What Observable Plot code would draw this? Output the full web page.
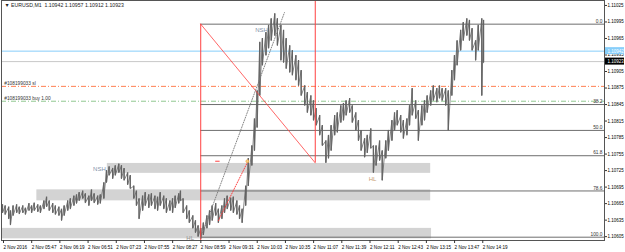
<!DOCTYPE html>
<html><head><meta charset="utf-8">
<script src="https://cdn.jsdelivr.net/npm/d3@7"></script>
<script src="https://cdn.jsdelivr.net/npm/@observablehq/plot@0.6"></script>
<style>body{margin:0;background:#fff}svg{display:block}</style>
</head><body><div id="chart"></div>
<script>
const title = "\u25BC EURUSD,M1  1.10942 1.10957 1.10912 1.10923";
// minutes after 2 Nov 2016 05:15
const sampleMin = [0,3,7,9,12,16,19,23,26,30,33,36,40,43,47,50,53,57,60,64,67,70,74,77,81,84,87,91,94,98,101,104,108,111,115,118,121,125,128,132,135,138,142,145,149,152,155,159,162,166,169,173,176,179,183,186,190,193,196,200,202,205,209,212,216,219,222,225,228,232,235,238,242,245,249,252,255,259,262,266,269,272,276,279,283,286,289,292,295,299,302,305,309,312,316,319,322,326,329,333,336,339,343,346,350,353,356,360,363,367,370,373,377,380,384,387,390,394,397,401,404,407,411,414,418,421,424,428,431,435,438,442,445,448,452,455,459,462,465,469,472,476,479,482,486,489,493,496,499,503,506,510,513,516,520,523,527,530,533,537,540,544,546];
const highs = [1.10663,1.10661,1.10659,1.10652,1.10661,1.10663,1.10659,1.10661,1.10657,1.10665,1.10661,1.10666,1.10663,1.10661,1.10670,1.10677,1.10670,1.10665,1.10661,1.10659,1.10655,1.10661,1.10670,1.10674,1.10679,1.10681,1.10685,1.10688,1.10683,1.10679,1.10690,1.10683,1.10679,1.10681,1.10703,1.10725,1.10732,1.10729,1.10734,1.10737,1.10734,1.10729,1.10721,1.10716,1.10697,1.10688,1.10674,1.10679,1.10685,1.10681,1.10683,1.10679,1.10677,1.10685,1.10679,1.10674,1.10670,1.10674,1.10679,1.10683,1.10688,1.10674,1.10661,1.10652,1.10643,1.10634,1.10625,1.10620,1.10630,1.10643,1.10652,1.10661,1.10665,1.10655,1.10661,1.10674,1.10679,1.10675,1.10677,1.10670,1.10661,1.10655,1.10697,1.10747,1.10770,1.10819,1.10870,1.10958,1.10965,1.10976,1.10989,1.11001,1.11010,1.11001,1.10989,1.10980,1.10965,1.10952,1.10943,1.10934,1.10925,1.10907,1.10879,1.10867,1.10861,1.10852,1.10838,1.10825,1.10807,1.10779,1.10789,1.10807,1.10825,1.10830,1.10843,1.10847,1.10852,1.10856,1.10843,1.10830,1.10816,1.10798,1.10783,1.10789,1.10801,1.10770,1.10770,1.10779,1.10761,1.10779,1.10798,1.10816,1.10830,1.10834,1.10825,1.10816,1.10819,1.10843,1.10874,1.10852,1.10834,1.10843,1.10852,1.10861,1.10870,1.10879,1.10874,1.10879,1.10874,1.10874,1.10870,1.10907,1.10934,1.10961,1.10980,1.10994,1.11001,1.10998,1.10983,1.10961,1.10989,1.11001,1.10998];
const lows = [1.10648,1.10645,1.10637,1.10626,1.10643,1.10648,1.10646,1.10648,1.10645,1.10652,1.10648,1.10652,1.10650,1.10648,1.10655,1.10659,1.10652,1.10648,1.10645,1.10643,1.10634,1.10643,1.10652,1.10655,1.10661,1.10665,1.10670,1.10674,1.10666,1.10661,1.10670,1.10666,1.10663,1.10665,1.10674,1.10703,1.10716,1.10710,1.10716,1.10721,1.10710,1.10707,1.10699,1.10692,1.10674,1.10661,1.10637,1.10652,1.10661,1.10657,1.10661,1.10655,1.10652,1.10661,1.10655,1.10648,1.10652,1.10648,1.10657,1.10665,1.10670,1.10648,1.10637,1.10630,1.10620,1.10612,1.10605,1.10601,1.10608,1.10620,1.10626,1.10634,1.10643,1.10630,1.10637,1.10648,1.10655,1.10652,1.10648,1.10645,1.10637,1.10630,1.10661,1.10697,1.10734,1.10761,1.10803,1.10861,1.10916,1.10934,1.10947,1.10961,1.10970,1.10952,1.10925,1.10921,1.10910,1.10903,1.10898,1.10889,1.10879,1.10861,1.10843,1.10830,1.10825,1.10816,1.10807,1.10789,1.10770,1.10739,1.10747,1.10761,1.10789,1.10794,1.10812,1.10816,1.10825,1.10830,1.10812,1.10798,1.10779,1.10761,1.10749,1.10757,1.10765,1.10721,1.10734,1.10743,1.10707,1.10747,1.10761,1.10779,1.10798,1.10807,1.10794,1.10783,1.10789,1.10807,1.10825,1.10819,1.10779,1.10807,1.10816,1.10830,1.10843,1.10852,1.10849,1.10856,1.10852,1.10843,1.10798,1.10861,1.10889,1.10916,1.10943,1.10961,1.10970,1.10961,1.10943,1.10925,1.10943,1.10861,1.10921];

const timeTicks = [0,32,64,96,128,160,192,224,256,288,320,352,384,416,448,480,512,544];
const timeLabels = ["2 Nov 2016","2 Nov 05:47","2 Nov 06:19","2 Nov 06:51","2 Nov 07:23","2 Nov 07:55","2 Nov 08:27","2 Nov 08:59","2 Nov 09:31","2 Nov 10:03","2 Nov 10:35","2 Nov 11:07","2 Nov 11:39","2 Nov 12:11","2 Nov 12:43","2 Nov 13:15","2 Nov 13:47","2 Nov 14:19"];
const priceTicks = [1.10605,1.10635,1.10665,1.10695,1.10725,1.10755,1.10785,1.10815,1.10845,1.10875,1.10905,1.10935,1.10965,1.10995,1.11025];

const fibLabels = ["0.0","38.2","50.0","61.8","78.6","100.0"];
const fibPrices = [1.10991,1.10845,1.10798,1.10752,1.10688,1.10604];
const fibStartMin = 225;

const zoneStart = [119,39,0];
const zoneEnd = [486,486,487];
const zoneLow = [1.10720,1.10670,1.10601];
const zoneHigh = [1.10738,1.10690,1.10620];

const askPrice = 1.10942, bidPrice = 1.10923;
const orderPrices = [1.10878, 1.10851];
const orderLabels = ["#108199033 sl", "#108199033 buy 1.00"];

const swingLabels = ["NSH","NSH","HL","HL"];
const swingMin = [110,294,213,420];
const swingPrice = [1.10727,1.10981,1.10603,1.10710];
const swingColors = ["#8090a8","#8090a8","#909090","#c8a070"];

// trend-line anchors (minutes, price)
const redVert1 = {m:225, p1:1.10991, p2:1.10598};
const redVert2 = {m:355, p1:1.11034, p2:1.10739};
const redDiag = [[225,1.10991],[355,1.10739]];
const grayDotted = [[225,1.10603],[320,1.11012]];
const redDotted = [[245,1.10634],[278,1.10740]];

const xDomain = [-1.135, 683.3];
const yDomain = [1.10598, 1.11034];

const bars = sampleMin.map((m,i)=>({m, hi:highs[i], lo:lows[i]}));
const zig = bars.flatMap(b=>[{m:b.m,p:b.hi},{m:b.m,p:b.lo}]);
const zones = zoneStart.map((s,i)=>({s, e:zoneEnd[i], lo:zoneLow[i], hi:zoneHigh[i]}));
const fibs = fibPrices.map((p,i)=>({p, label:fibLabels[i]}));
const swings = swingLabels.map((t,i)=>({t, m:swingMin[i], p:swingPrice[i], c:swingColors[i]}));
const orders = orderPrices.map((p,i)=>({p, label:orderLabels[i]}));
const pts = a => a.map(([m,p])=>({m,p}));

const chart = Plot.plot({
  width: 625, height: 252,
  marginLeft: 1, marginRight: 21, marginTop: 0, marginBottom: 12,
  x: {type:"linear", domain: xDomain, axis: null},
  y: {domain: yDomain, axis: null},
  style: {fontFamily: "'Liberation Sans', Arial, sans-serif", fontSize: "4.5px", color: "#000", background: "#fff", overflow: "visible"},
  marks: [
    Plot.rect(zones, {x1:"s", x2:"e", y1:"lo", y2:"hi", fill:"#d3d3d3"}),
    Plot.ruleY([askPrice], {stroke:"#87cefa", strokeWidth:1}),
    Plot.ruleY([bidPrice], {stroke:"#c8c8c8", strokeWidth:1}),
    Plot.ruleY([orderPrices[0]], {stroke:"#ff7f50", strokeWidth:1, strokeDasharray:"5,2,1,2"}),
    Plot.ruleY([orderPrices[1]], {stroke:"#90c890", strokeWidth:1, strokeDasharray:"5,2,1,2"}),
    Plot.text(orders, {x: () => 2, y:"p", text:"label", textAnchor:"start", dy:-3, fill:"#333", fontSize:4.8}),
    Plot.ruleY(fibs, {y:"p", x1: fibStartMin, x2: xDomain[1], stroke:"#6e6e6e", strokeWidth:1}),
    Plot.text(fibs, {y:"p", x: () => xDomain[1], text:"label", textAnchor:"end", dx:-2, dy:-3, fill:"#333", fontSize:4.8}),
    Plot.ruleX(bars, {x:"m", y1:"lo", y2:"hi", stroke:"#636363", strokeWidth:1.3}),
    Plot.line(zig, {x:"m", y:"p", stroke:"#636363", strokeWidth:0.8}),
    Plot.ruleX([redVert1], {x:"m", y1:"p1", y2:"p2", stroke:"#ff4040", strokeWidth:1}),
    Plot.ruleX([redVert2], {x:"m", y1:"p1", y2:"p2", stroke:"#ff4040", strokeWidth:1}),
    Plot.line(pts(redDiag), {x:"m", y:"p", stroke:"#ff4040", strokeWidth:0.8}),
    Plot.line(pts(grayDotted), {x:"m", y:"p", stroke:"#777", strokeWidth:0.9, strokeDasharray:"1,1.5"}),
    Plot.line(pts(redDotted), {x:"m", y:"p", stroke:"#ff3030", strokeWidth:0.9, strokeDasharray:"1,1.5"}),
    Plot.ruleY([1.10742], {x1:242, x2:247, stroke:"#ff4040", strokeWidth:1}),
    Plot.dot([{m:278, p:1.10742}], {x:"m", y:"p", r:1.5, stroke:"#e8a040", fill:"#f8d080", strokeWidth:0.6}),
    Plot.text(swings, {x:"m", y:"p", text:"t", fill:"c", fontSize:6}),
    // frame and axes
    Plot.frame({stroke:"#555", strokeWidth:1}),
    Plot.axisY({anchor:"right", ticks: priceTicks, tickSize:2, tickPadding:1, tickFormat: d => d.toFixed(5), fontSize:4.5, stroke:"#333"}),
    Plot.axisX({anchor:"bottom", ticks: timeTicks, tickSize:3, tickPadding:2, textAnchor:"start", dx:1, tickFormat: d => timeLabels[timeTicks.indexOf(d)], fontSize:4.6, stroke:"#333"}),
    Plot.rect([askPrice], {x1: () => xDomain[1], x2: () => xDomain[1], y1: d=>d, y2: d=>d, insetLeft:1, insetRight:-20, insetTop:-3.5, insetBottom:-3.5, fill:"#87cefa"}),
    Plot.text([askPrice], {x: () => xDomain[1], y: d=>d, text: d=>d.toFixed(5), textAnchor:"start", dx:3, fill:"#fff", fontSize:4.5}),
    Plot.rect([bidPrice], {x1: () => xDomain[1], x2: () => xDomain[1], y1: d=>d, y2: d=>d, insetLeft:1, insetRight:-20, insetTop:-3.5, insetBottom:-3.5, fill:"#000"}),
    Plot.text([bidPrice], {x: () => xDomain[1], y: d=>d, text: d=>d.toFixed(5), textAnchor:"start", dx:3, fill:"#fff", fontSize:4.5}),
    Plot.text([title], {frameAnchor:"top-left", dx:3, dy:3, text: d=>d, fill:"#222", fontSize:5.2})
  ]
});
document.getElementById("chart").appendChild(chart);
</script>
</body></html>
